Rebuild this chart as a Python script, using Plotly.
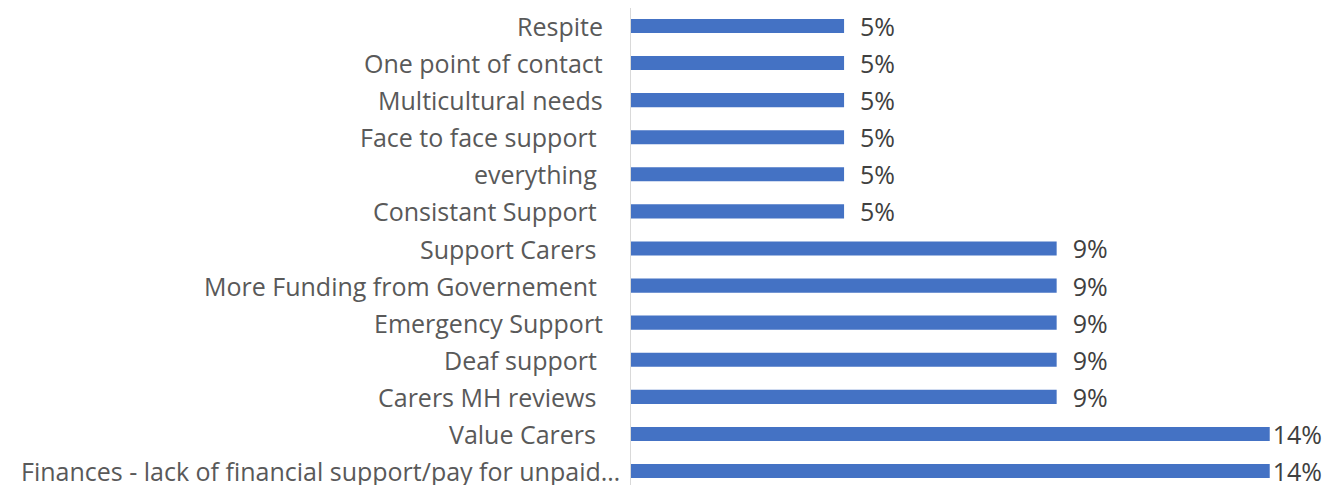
import plotly.graph_objects as go

# categories listed top to bottom, as in the chart
categories = [
    "Respite",
    "One point of contact",
    "Multicultural needs",
    "Face to face support\u00a0",
    "everything\u00a0",
    "Consistant Support\u00a0",
    "Support Carers\u00a0",
    "More Funding from Governement\u00a0",
    "Emergency Support",
    "Deaf support\u00a0",
    "Carers MH reviews\u00a0",
    "Value Carers\u00a0",
    "Finances - lack of financial support/pay for unpaid\u2026",
]
shares = [4.55, 4.55, 4.55, 4.55, 4.55, 4.55, 9.09, 9.09, 9.09, 9.09, 9.09, 13.64, 13.64]
value_labels = ["5%", "5%", "5%", "5%", "5%", "5%", "9%", "9%", "9%", "9%", "9%", "14%", "14%"]

# Excel pushes the labels a bit away from the bar, except near the right edge
shown = [("\u00a0\u00a0" + t) if v < 13 else t for t, v in zip(value_labels, shares)]

fig = go.Figure(go.Bar(
    x=shares,
    y=categories,
    orientation="h",
    marker=dict(color="#4472C4", line=dict(width=0)),
    text=shown,
    textposition="outside",
    constraintext="none",
    textfont=dict(family="Open Sans", size=25, color="#404040"),
    cliponaxis=False,
    hoverinfo="skip",
))

# category labels as annotations: the truncated one sits closer to the axis in Excel
for cat in categories:
    fig.add_annotation(
        x=0, xref="paper", y=cat, yref="y",
        text=cat, showarrow=False,
        xanchor="right", yanchor="middle",
        xshift=-9 if cat.endswith("\u2026") else -26,
        font=dict(family="Open Sans", size=25, color="#595959"),
    )

# the page body has an 8px margin, so the figure is laid out 8px in from the window
fig.update_layout(
    width=1341,
    height=485,
    margin=dict(l=623, r=39, t=0, b=0, autoexpand=False),
    plot_bgcolor="white",
    paper_bgcolor="white",
    bargap=0.62,
    showlegend=False,
    font=dict(family="Open Sans", size=25, color="#595959"),
    xaxis=dict(range=[0, 14.5], visible=False, automargin=False),
    yaxis=dict(
        categoryorder="array",
        categoryarray=categories,
        range=[12.593, -0.485],
        automargin=False,
        showline=True,
        linecolor="#D9D9D9",
        linewidth=1,
        showticklabels=False,
        ticks="",
        showgrid=False,
    ),
)

fig.write_html("out.html")
